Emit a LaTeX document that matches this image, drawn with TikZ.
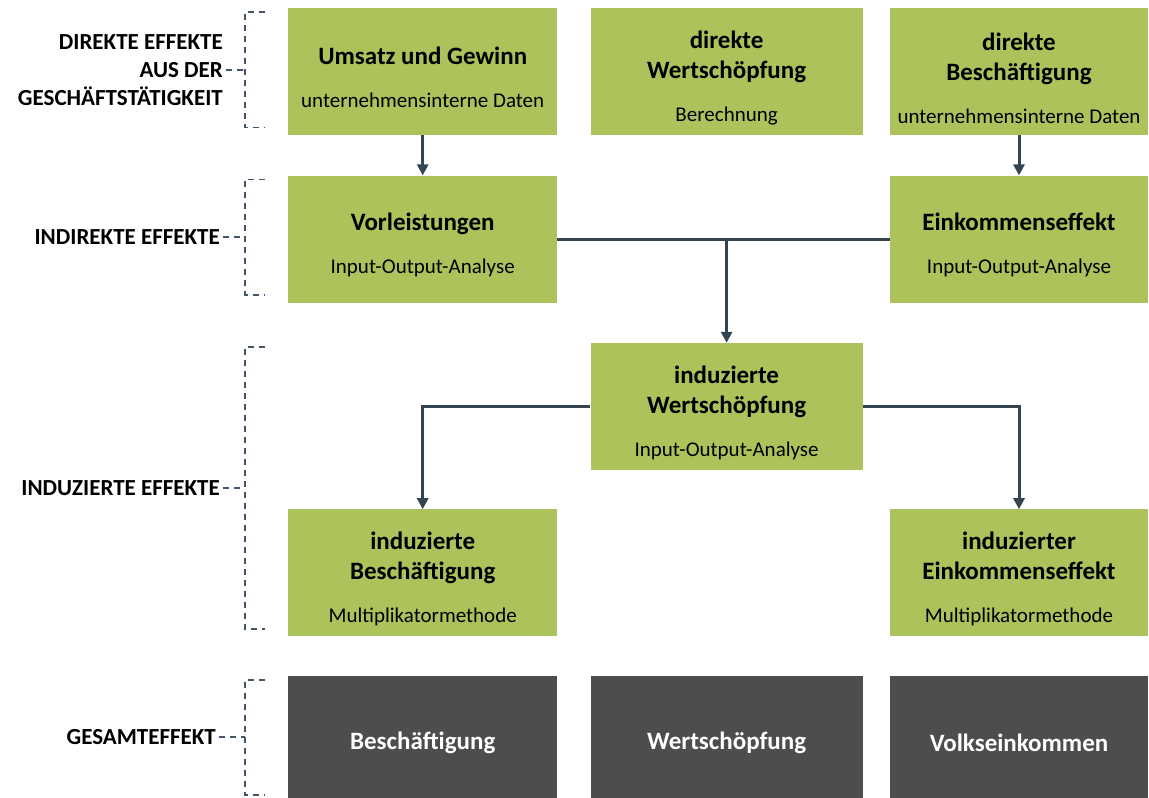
\documentclass[tikz,border=0pt]{standalone}
\usepackage{fontspec}
\setmainfont{Carlito}
\usetikzlibrary{arrows.meta,positioning,calc}

\definecolor{boxgreen}{RGB}{171,195,90}
\definecolor{boxdark}{RGB}{77,77,77}
\definecolor{linedark}{RGB}{52,68,80}
\definecolor{bracketgray}{RGB}{68,84,106}

\newcommand{\subtxt}[1]{{\fontsize{21}{25}\selectfont\mdseries #1}}
\newcommand{\lift}[1]{\rule{0pt}{#1}}

\begin{document}
\begin{tikzpicture}[x=1pt,y=1pt]
\tikzset{
     effect/.style={fill=boxgreen, minimum height=127pt, inner sep=0pt, align=center,
                    font=\fontsize{25}{30}\selectfont\bfseries},
     total/.style={fill=boxdark, text=white, minimum height=127pt, inner sep=0pt,
                    font=\fontsize{25}{30}\selectfont\bfseries},
     conn/.style={draw=linedark, line width=3pt, -{Triangle[length=11pt,width=11pt]}},
     joint/.style={draw=linedark, line width=3pt},
     bracket/.style={draw=bracketgray, line width=1.8pt, dash pattern=on 6pt off 5pt},
     lbl/.style={inner sep=0pt, align=right, font=\fontsize{23}{28}\selectfont\bfseries}}

\useasboundingbox (0,0) rectangle (1149,-798);

% direct effects
\node (umsatz) [effect, minimum width=269pt, anchor=north west] at (288,-8)
   {\lift{29pt}Umsatz und Gewinn\\[13pt]\subtxt{unternehmensinterne Daten}};
\node (dwert)  [effect, minimum width=272pt, right=33pt of umsatz]
   {\lift{30pt}direkte\\Wertschöpfung\\[13pt]\subtxt{Berechnung}};
\node (dbesch) [effect, minimum width=258pt, right=27pt of dwert]
   {\lift{30pt}direkte\\Beschäftigung\\[13pt]\subtxt{unternehmensinterne Daten}};

% indirect effects
\node (vorl)    [effect, minimum width=269pt, below=40pt of umsatz]
   {\lift{29pt}Vorleistungen\\[13pt]\subtxt{Input-Output-Analyse}};
\node (einkeff) [effect, minimum width=258pt, below=40pt of dbesch]
   {\lift{29pt}Einkommenseffekt\\[13pt]\subtxt{Input-Output-Analyse}};

% induced effects
\node (iwert)  [effect, minimum width=272pt, anchor=north] at ($(dwert |- vorl.south)+(0,-40)$)
   {\lift{30pt}induzierte\\Wertschöpfung\\[13pt]\subtxt{Input-Output-Analyse}};
\node (ibesch) [effect, minimum width=269pt, anchor=north] at ($(vorl |- iwert.south)+(0,-39)$)
   {\lift{30pt}induzierte\\Beschäftigung\\[13pt]\subtxt{Multiplikatormethode}};
\node (ieink)  [effect, minimum width=258pt, anchor=north] at ($(einkeff |- iwert.south)+(0,-39)$)
   {\lift{30pt}induzierter\\Einkommenseffekt\\[13pt]\subtxt{Multiplikatormethode}};

% total
\node (gbesch) [total, minimum width=269pt, below=39pt of ibesch] {\lift{25pt}Beschäftigung};
\node (gwert)  [total, minimum width=272pt, right=33pt of gbesch] {\lift{25pt}Wertschöpfung};
\node (geink)  [total, minimum width=258pt, right=27pt of gwert] {\lift{25pt}Volkseinkommen};

% connectors
\draw [conn] (umsatz) -- (vorl);
\draw [conn] (dbesch) -- (einkeff);
\draw [joint] (vorl.east) -- (einkeff.west);
\coordinate (split) at (vorl.east -| iwert.north);
\draw [conn] (split) -- (iwert);
\draw [conn] (iwert.west) -| (ibesch.north);
\draw [conn] (iwert.east) -| (ieink.north);

% the brackets
\foreach \first/\last/\lab in {umsatz/umsatz/bdir, vorl/vorl/bind, iwert/ibesch/bidz, gbesch/gbesch/bges}{
  \coordinate (\lab top) at ($(\first.north -| \last.west)+(-43,-4)$);
  \coordinate (\lab bot) at ($(\last.south west)+(-43,8)$);
  \coordinate (\lab) at ($(\lab top)!0.5!(\lab bot)$);
  \draw [bracket] ($(\lab top)+(20,0)$) -- (\lab top) -- (\lab bot) -- ($(\lab bot)+(20,0)$);
}

% the labels
\node (ldirekt)   [lbl, left=22pt of bdir] {DIREKTE EFFEKTE\\AUS DER\\GESCHÄFTSTÄTIGKEIT};
\node (lindirekt) [lbl, left=25pt of bind] {INDIREKTE EFFEKTE};
\node (linduz)    [lbl, left=25pt of bidz] {INDUZIERTE EFFEKTE};
\node (lgesamt)   [lbl, left=29pt of bges] {GESAMTEFFEKT};
\draw [bracket] ([xshift=3pt]ldirekt.east |- bdir) -- (bdir);
\draw [bracket] ([xshift=3pt]lindirekt.east) -- (bind);
\draw [bracket] ([xshift=3pt]linduz.east) -- (bidz);
\draw [bracket] ([xshift=3pt]lgesamt.east) -- (bges);
\end{tikzpicture}
\end{document}
